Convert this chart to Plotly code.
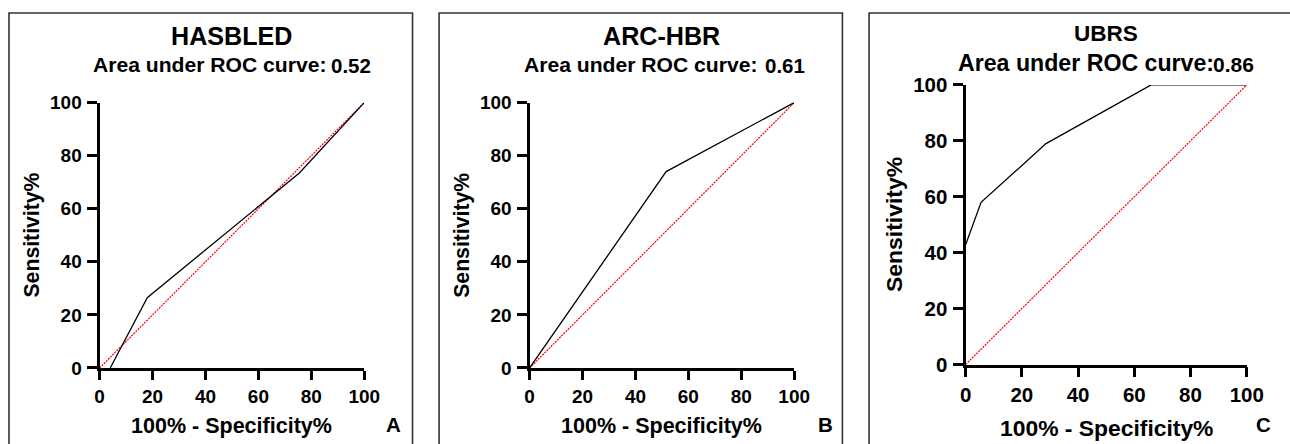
import plotly.graph_objects as go

W, H = 1290, 444

# measured mapping from page pixels to the photographed picture
AX, BX = 0.9838, 5.5
AY, BY = 0.947, 11.2
FS = 0.975  # font compensation

# ---------------- data ----------------
titles = ["HASBLED", "ARC-HBR", "UBRS"]
auc_values = ["0.52", "0.61", "0.86"]
panel_letters = ["A", "B", "C"]

hasbled_x = [4, 18, 75.5, 100]
hasbled_y = [0, 26.5, 73.5, 100]

arc_x = [0, 51.6, 100]
arc_y = [0, 74, 100]

ubrs_x = [0, 5.5, 28.6, 66, 100]
ubrs_y = [42.8, 58, 79, 100, 100]

ref_x = [0, 100]
ref_y = [0, 100]

tick_vals = [0, 20, 40, 60, 80, 100]
tick_text = ["0", "20", "40", "60", "80", "100"]

x_title = "100% - Specificity%"
y_title = "Sensitivity%"

curves = [(hasbled_x, hasbled_y), (arc_x, arc_y), (ubrs_x, ubrs_y)]

# ---------------- layout geometry (target picture pixels) ----------------
areas = [(99.3, 364.3, 101.7, 366.7),
         (530.0, 795.0, 101.7, 366.7),
         (966.7, 1248.3, 84.0, 363.3)]
boxes = [(8.5, 412.7), (439.3, 843.3), (870, 1330)]

title_size = [24.5, 24.5, 22]
title_y = [35, 35, 33]
auc_size = [20.6, 20.6, 22.6]
auc_left = [90.7, 522, 957]
auc_y = [64, 64, 62]
num_size = [20, 20, 20.5]
num_left = [329, 764, 1212]
num_y = [65, 65, 64]
tick_size = [18.5, 18.5, 20]
xt_size = [21, 21, 22.3]
xt_y = [425, 425, 427]
yt_size = [20.7, 20.7, 22.4]
yt_x = [32, 462, 895]
yt_c = [234, 234, 224]
let_x = [394, 826, 1265]
let_y = [423, 423, 423]


def px(x):
    return ((x - BX) / AX) / W


def py(y):
    return 1 - ((y - BY) / AY) / H


FONT = "Liberation Sans, Arial, sans-serif"

fig = go.Figure()
layout = dict(
    width=W, height=H,
    margin=dict(l=0, r=0, t=0, b=0),
    paper_bgcolor="white", plot_bgcolor="white",
    showlegend=False,
    font=dict(family=FONT, color="black"),
)
annotations = []
shapes = []


def bold(size):
    return dict(family=FONT, size=size / FS, weight="bold", color="black")


for i in range(3):
    x0, x1, yt, yb = areas[i]
    xa = "xaxis" if i == 0 else f"xaxis{i+1}"
    ya = "yaxis" if i == 0 else f"yaxis{i+1}"
    xref = "x" if i == 0 else f"x{i+1}"
    yref = "y" if i == 0 else f"y{i+1}"

    axis_common = dict(
        range=[0, 100], tickvals=tick_vals, ticktext=tick_text,
        tickfont=bold(tick_size[i]),
        ticks="outside", tickwidth=2.9, tickcolor="black",
        showline=True, linewidth=2.9, linecolor="black",
        showgrid=False, zeroline=False, fixedrange=True,
    )
    layout[xa] = dict(domain=[px(x0), px(x1)], anchor=yref, ticklen=9.5,
                      ticklabelstandoff=0, **axis_common)
    layout[ya] = dict(domain=[py(yb), py(yt)], anchor=xref, ticklen=9.2,
                      ticklabelstandoff=2, **axis_common)

    # reference diagonal
    fig.add_trace(go.Scatter(x=ref_x, y=ref_y, mode="lines", xaxis=xref, yaxis=yref,
                             line=dict(color="#ff0000", width=1.2, dash="2px,1px"),
                             cliponaxis=False, hoverinfo="skip"))
    cx, cy = curves[i]
    fig.add_trace(go.Scatter(x=cx, y=cy, mode="lines", xaxis=xref, yaxis=yref,
                             line=dict(color="black", width=1.3),
                             cliponaxis=False))

    # panel border
    bx0, bx1 = boxes[i]
    shapes.append(dict(type="rect", xref="paper", yref="paper",
                       x0=px(bx0), x1=px(bx1), y0=py(500), y1=min(py(11), 1 - 1.0 / H),
                       line=dict(color="#333333", width=1.6), layer="below"))

    xc = (x0 + x1) / 2
    annotations.append(dict(text=titles[i], xref="paper", yref="paper",
                            x=px(xc), y=py(title_y[i]), showarrow=False,
                            xanchor="center", yanchor="middle", font=bold(title_size[i])))
    annotations.append(dict(text="Area under ROC curve:", xref="paper", yref="paper",
                            x=px(auc_left[i]), y=py(auc_y[i]), showarrow=False,
                            xanchor="left", yanchor="middle", font=bold(auc_size[i])))
    annotations.append(dict(text=auc_values[i], xref="paper", yref="paper",
                            x=px(num_left[i]), y=py(num_y[i]), showarrow=False,
                            xanchor="left", yanchor="middle", font=bold(num_size[i])))
    annotations.append(dict(text=x_title, xref="paper", yref="paper",
                            x=px(xc), y=py(xt_y[i]), showarrow=False,
                            xanchor="center", yanchor="middle", font=bold(xt_size[i])))
    annotations.append(dict(text=y_title, xref="paper", yref="paper",
                            x=px(yt_x[i]), y=py(yt_c[i]), showarrow=False, textangle=-90,
                            xanchor="center", yanchor="middle", font=bold(yt_size[i])))
    annotations.append(dict(text=panel_letters[i], xref="paper", yref="paper",
                            x=px(let_x[i]), y=py(let_y[i]), showarrow=False,
                            xanchor="center", yanchor="middle", font=bold(20)))

layout["annotations"] = annotations
layout["shapes"] = shapes
fig.update_layout(**layout)

fig.write_html("out.html", config={"displayModeBar": False},
               post_script="document.body.style.margin='0';document.body.style.overflow='hidden';")
